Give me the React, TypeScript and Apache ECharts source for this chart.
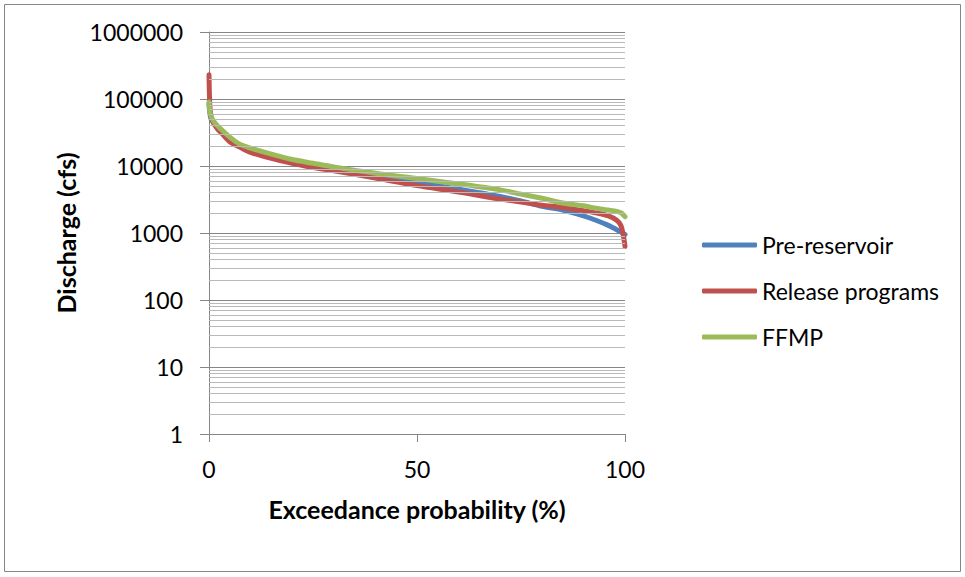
import React, { useEffect, useRef } from "react";
import * as echarts from "echarts";

const seriesNames = ["Pre-reservoir", "Release programs", "FFMP"];
const seriesColors = ["#4F81BD", "#C0504D", "#9BBB59"];

const probability = [0, 0.2, 0.5, 1, 2, 3, 5, 7.5, 10, 15, 20, 25, 30, 40, 50, 60, 70, 75, 80, 85, 90, 93, 96, 98, 99, 99.5, 100];

const preReservoir = [85000, 62000, 50000, 45000, 38000, 33000, 25000, 20000, 17000, 14000, 11800, 10200, 9000, 7100, 5700, 4500, 3500, 3000, 2500, 2200, 1800, 1550, 1300, 1120, 1040, 990, 950];
const releasePrograms = [230000, 80000, 55000, 45000, 36000, 31000, 23000, 19000, 16000, 13000, 11000, 9500, 8500, 6600, 5100, 4100, 3200, 2900, 2600, 2400, 2150, 2000, 1800, 1550, 1300, 1000, 630];
const ffmp = [90000, 65000, 55000, 48000, 40000, 35000, 27000, 21000, 18500, 15000, 12500, 11000, 9700, 7800, 6500, 5400, 4400, 3800, 3300, 2800, 2550, 2350, 2200, 2100, 2000, 1900, 1750];

const yDecades = [1, 10, 100, 1000, 10000, 100000];
const minorSteps = [2, 3, 4, 5, 6, 7, 8, 9];
const xTicks = [0, 50, 100];

const FONT = "Lato";

export default function App() {
  const ref = useRef<HTMLDivElement>(null);
  useEffect(() => {
    if (!ref.current) return;
    const chart = echarts.init(ref.current, undefined, { renderer: "svg" });
    const values = [preReservoir, releasePrograms, ffmp];
    const minorLines: any[] = [];
    yDecades.forEach((d) => minorSteps.forEach((s) => minorLines.push({ yAxis: d * s })));
    const option: any = {
      animation: false,
      backgroundColor: "#ffffff",
      textStyle: { fontFamily: FONT },
      graphic: [
        {
          type: "rect",
          shape: { x: 4.5, y: 4.5, width: 956, height: 567 },
          style: { fill: "none", stroke: "#868686", lineWidth: 1 },
          silent: true,
        },
      ],
      grid: { left: 209, right: 340, top: 32, bottom: 143, containLabel: false },
      legend: {
        orient: "vertical",
        left: 702,
        top: 232,
        padding: 0,
        itemWidth: 55,
        itemHeight: 5,
        itemGap: 20,
        icon: "roundRect",
        data: seriesNames,
        textStyle: { fontFamily: FONT, fontSize: 23, color: "#000", lineHeight: 26 },
      },
      xAxis: {
        type: "value",
        min: 0,
        max: 100,
        interval: 50,
        name: "Exceedance probability (%)",
        nameLocation: "middle",
        nameGap: 62,
        nameTextStyle: { fontFamily: FONT, fontSize: 25, fontWeight: "bold", color: "#000" },
        axisLine: { show: true, lineStyle: { color: "#868686", width: 1 } },
        axisTick: { show: true, length: 8, lineStyle: { color: "#868686" } },
        axisLabel: { fontFamily: FONT, fontSize: 23, color: "#000", margin: 23, customValues: xTicks },
        splitLine: { show: false },
      },
      yAxis: {
        type: "log",
        logBase: 10,
        min: 1,
        max: 1000000,
        name: "Discharge (cfs)",
        nameLocation: "middle",
        nameGap: 131,
        nameTextStyle: { fontFamily: FONT, fontSize: 25, fontWeight: "bold", color: "#000" },
        axisLine: { show: true, lineStyle: { color: "#868686", width: 1 } },
        axisTick: { show: true, length: 9, lineStyle: { color: "#868686" } },
        axisLabel: {
          fontFamily: FONT,
          fontSize: 23,
          color: "#000",
          margin: 26,
          formatter: (v: number) => String(Math.round(v)),
        },
        splitLine: { show: true, lineStyle: { color: "#868686", width: 1 } },
        minorTick: { show: false },
      },
      series: [
        {
          name: "minor-grid",
          type: "line",
          data: [],
          z: 1,
          silent: true,
          markLine: {
            silent: true,
            symbol: ["none", "none"],
            label: { show: false },
            lineStyle: { color: "#b9b9b9", width: 1, type: "solid" },
            emphasis: { disabled: true },
            data: minorLines,
          },
        },
        ...seriesNames.map((name, i) => ({
          name,
          type: "line",
          z: 2 + i,
          showSymbol: false,
          symbol: "none",
          smooth: 0.3,
          color: seriesColors[i],
          lineStyle: { color: seriesColors[i], width: 5, cap: "round", join: "round" },
          data: probability.map((p, j) => [p, values[i][j]]),
        })),
      ],
    };
    chart.setOption(option);
    return () => chart.dispose();
  }, []);
  return (
    <div
      ref={ref}
      style={{ position: "absolute", left: 0, top: 0, width: 965, height: 577 }}
    />
  );
}
